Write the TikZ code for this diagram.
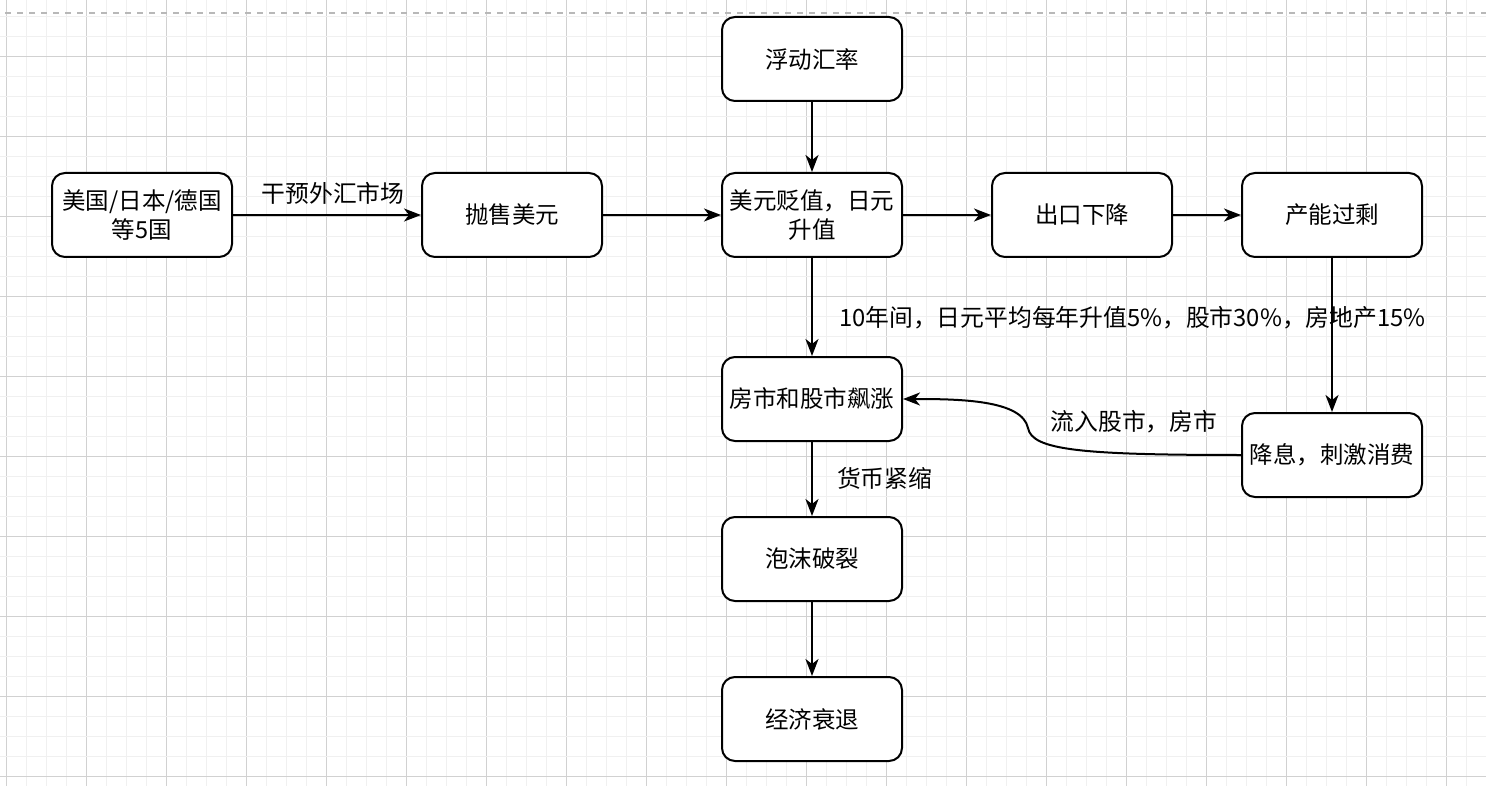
\documentclass[tikz,border=0pt]{standalone}
\usepackage{fontspec}
\setmainfont{Noto Sans CJK SC}
\usetikzlibrary{arrows.meta}
\begin{document}
\begin{tikzpicture}[x=1pt,y=-1pt,
  box/.style={draw=black, line width=2pt, rounded corners=13pt, fill=white,
    minimum width=180pt, minimum height=84pt, align=center, inner sep=1pt,
    font=\fontsize{23.5}{29}\selectfont, text width=178pt},
  arr/.style={draw=black, line width=2pt, -{Stealth[length=17pt,width=13pt,inset=5pt]}},
  lbl/.style={font=\fontsize{23.8}{28}\selectfont, inner sep=0pt},
  minorgrid/.style={draw=black!6, line width=0.7pt},
  majorgrid/.style={draw=black!18, line width=0.7pt}]
\useasboundingbox (0,0) rectangle (1486,786);
\fill[white] (0,0) rectangle (1486,786);
% grid
\foreach \k in {0,...,74} {
  \pgfmathtruncatemacro{\m}{mod(\k,4)}
  \ifnum\m=0 \draw[majorgrid] ({6.7+20*\k},0) -- ({6.7+20*\k},786);
  \else \draw[minorgrid] ({6.7+20*\k},0) -- ({6.7+20*\k},786); \fi
}
\foreach \k in {0,...,38} {
  \pgfmathtruncatemacro{\m}{mod(\k,4)}
  \ifnum\m=2 \draw[majorgrid] (0,{16.7+20*\k}) -- (1486,{16.7+20*\k});
  \else \draw[minorgrid] (0,{16.7+20*\k}) -- (1486,{16.7+20*\k}); \fi
}
\draw[draw=black!28, line width=1.3pt, dash pattern=on 6pt off 6pt] (5,13) -- (1486,13);
% nodes
\node[box] (us)   at (142,215) {美国/日本/德国\\等5国};
\node[box] (sell) at (512,215) {抛售美元};
\node[box] (flt)  at (812,59)  {浮动汇率};
\node[box] (usd)  at (812,215) {美元贬值，日元\\升值};
\node[box] (exp)  at (1082,215) {出口下降};
\node[box] (cap)  at (1332,215) {产能过剩};
\node[box] (hs)   at (812,399) {房市和股市飙涨};
\node[box] (rate) at (1332,455) {降息，刺激消费};
\node[box] (bub)  at (812,559) {泡沫破裂};
\node[box] (rec)  at (812,719) {经济衰退};
% connectors
\draw[arr] (us) -- node[lbl, xshift=6pt, yshift=22pt] {干预外汇市场} (sell);
\draw[arr] (sell) -- (usd);
\draw[arr] (flt) -- (usd);
\draw[arr] (usd) -- (exp);
\draw[arr] (exp) -- (cap);
\draw[arr] (cap) -- (rate);
\draw[arr] (usd) -- node[lbl, anchor=west, xshift=26pt, yshift=-11pt] {10年间，日元平均每年升值5\%，股市30\%，房地产15\%} (hs);
\draw[arr] (hs) -- node[lbl, anchor=west, xshift=24pt, yshift=1pt] {货币紧缩} (bub);
\draw[arr] (bub) -- (rec);
\draw[arr] (rate.west) .. controls (1080,455) and (1032,450) .. (1028,428)
   .. controls (1022,400) and (960,399) .. (hs.east);
\node[lbl] (flow) at (1134,422) {流入股市，房市};
\end{tikzpicture}
\end{document}
